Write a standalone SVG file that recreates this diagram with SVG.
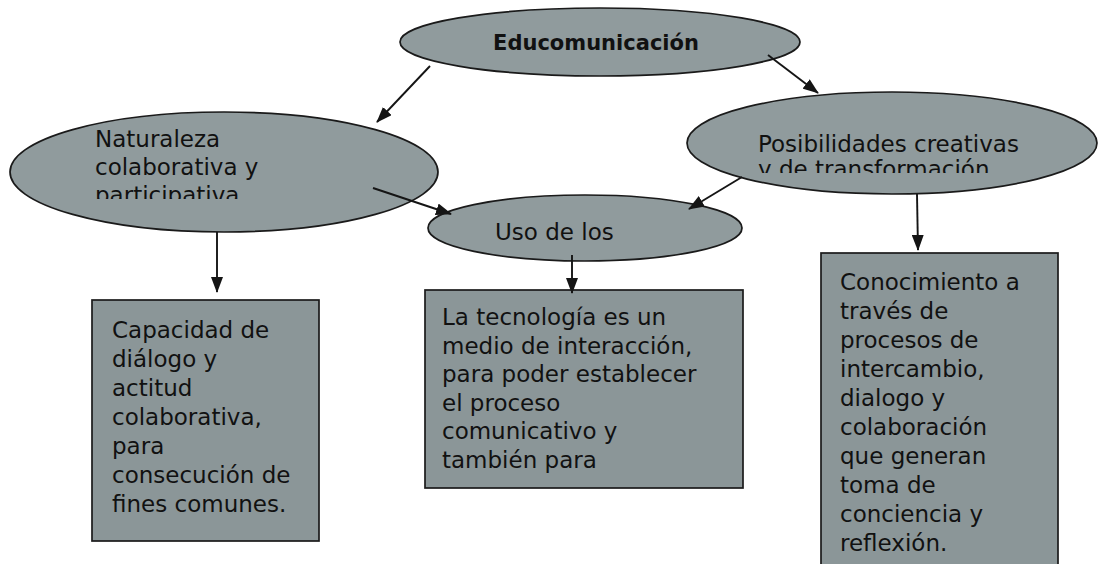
<svg xmlns="http://www.w3.org/2000/svg" width="1098" height="564" viewBox="0 0 1098 564">
<style>
.shape{fill:#909b9d;stroke:#1a1a1a;stroke-width:1.7}
.box{fill:#8b9698;stroke:#1a1a1a;stroke-width:1.7}
.t{font-family:"DejaVu Sans","Liberation Sans",sans-serif;font-size:23px;fill:#111111}
.b{font-weight:bold;font-size:21px}
.c{stroke:#151515;stroke-width:1.9;fill:none;marker-end:url(#ah)}
</style>
<defs>
<marker id="ah" viewBox="0 0 16 12" refX="15" refY="6" markerWidth="16" markerHeight="12" markerUnits="userSpaceOnUse" orient="auto">
<path d="M0,0 L16,6 L0,12 z" fill="#151515"/>
</marker>
<clipPath id="clipNat"><rect x="0" y="100" width="450" height="99"/></clipPath>
<clipPath id="clipPos"><rect x="680" y="80" width="418" height="93"/></clipPath>
</defs>
<rect width="1098" height="564" fill="#ffffff"/>
<g id="educomunicacion">
<ellipse class="shape" cx="600" cy="42" rx="200" ry="34"/>
<text class="t b" x="596" y="50" text-anchor="middle">Educomunicación</text>
</g>
<g id="naturaleza">
<ellipse class="shape" cx="224" cy="172" rx="214" ry="60"/>
<g clip-path="url(#clipNat)">
<text class="t" x="95" y="147">Naturaleza</text>
<text class="t" x="95" y="175">colaborativa y</text>
<text class="t" x="95" y="203">participativa</text>
</g>
</g>
<g id="posibilidades">
<ellipse class="shape" cx="892" cy="143" rx="205" ry="51"/>
<g clip-path="url(#clipPos)">
<text class="t" x="758" y="152">Posibilidades creativas</text>
<text class="t" x="758" y="177">y de transformación</text>
</g>
</g>
<g id="uso">
<ellipse class="shape" cx="585" cy="228" rx="157" ry="33"/>
<text class="t" x="495" y="240">Uso de los</text>
</g>
<g id="capacidad">
<rect class="box" x="92" y="300" width="227" height="241"/>
<text class="t"><tspan x="112" y="338">Capacidad de</tspan><tspan x="112" y="367">diálogo y</tspan><tspan x="112" y="396">actitud</tspan><tspan x="112" y="425">colaborativa,</tspan><tspan x="112" y="454">para</tspan><tspan x="112" y="483">consecución de</tspan><tspan x="112" y="512">fines comunes.</tspan></text>
</g>
<g id="tecnologia">
<rect class="box" x="425" y="290" width="318" height="198"/>
<text class="t"><tspan x="442" y="325">La tecnología es un</tspan><tspan x="442" y="353.5">medio de interacción,</tspan><tspan x="442" y="382">para poder establecer</tspan><tspan x="442" y="410.5">el proceso</tspan><tspan x="442" y="439">comunicativo y</tspan><tspan x="442" y="467.5">también para</tspan></text>
</g>
<g id="conocimiento">
<rect class="box" x="821" y="253" width="237" height="320"/>
<text class="t"><tspan x="840" y="290">Conocimiento a</tspan><tspan x="840" y="319">través de</tspan><tspan x="840" y="348">procesos de</tspan><tspan x="840" y="377">intercambio,</tspan><tspan x="840" y="406">dialogo y</tspan><tspan x="840" y="435">colaboración</tspan><tspan x="840" y="464">que generan</tspan><tspan x="840" y="493">toma de</tspan><tspan x="840" y="522">conciencia y</tspan><tspan x="840" y="551">reflexión.</tspan></text>
</g>
<g id="connectors">
<line class="c" x1="430" y1="66" x2="377" y2="122"/>
<line class="c" x1="768" y1="55" x2="818" y2="93"/>
<line class="c" x1="373" y1="188" x2="451" y2="214"/>
<line class="c" x1="742" y1="177" x2="689" y2="209"/>
<line class="c" x1="217" y1="232" x2="217" y2="292"/>
<line class="c" x1="572" y1="255" x2="572" y2="293"/>
<line class="c" x1="917" y1="194" x2="918" y2="250"/>
</g>
</svg>
